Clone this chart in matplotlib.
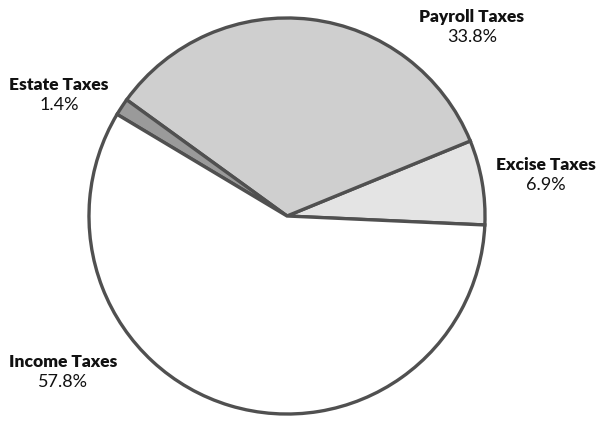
import matplotlib
matplotlib.use("Agg")
import matplotlib.pyplot as plt

categories = ["Excise Taxes", "Payroll Taxes", "Estate Taxes", "Income Taxes"]
shares = [6.9, 33.8, 1.4, 57.8]
colors = ["#e4e4e4", "#cfcfcf", "#9a9a9a", "#ffffff"]

W, H = 596, 421
fig = plt.figure(figsize=(W / 100, H / 100), dpi=100)
cx, cy, r = 287, 216, 200
ax = fig.add_axes([(cx - r) / W, (H - cy - r) / H, 2 * r / W, 2 * r / H])
ax.pie(shares, colors=colors, startangle=-2.6, counterclock=True, radius=1,
       wedgeprops=dict(edgecolor="#505050", linewidth=2.4, joinstyle="miter"))
ax.set_xlim(-1.01, 1.01)
ax.set_ylim(-1.01, 1.01)
ax.set_aspect("equal")
ax.axis("off")

label_pos = {
    "Excise Taxes": (546, 165),
    "Payroll Taxes": (472, 17),
    "Estate Taxes": (59, 85),
    "Income Taxes": (63, 362),
}
fam = ["Lato", "DejaVu Sans"]
for name, val in zip(categories, shares):
    x, y = label_pos[name]
    fig.text(x / W, 1 - y / H, name, ha="center", va="center", fontsize=12.5,
             fontweight="heavy", family=fam, color="#111111")
    fig.text(x / W, 1 - (y + 20) / H, f"{val}%", ha="center", va="center",
             fontsize=13, family=fam, color="#111111")

fig.savefig("out.png", dpi=100)
